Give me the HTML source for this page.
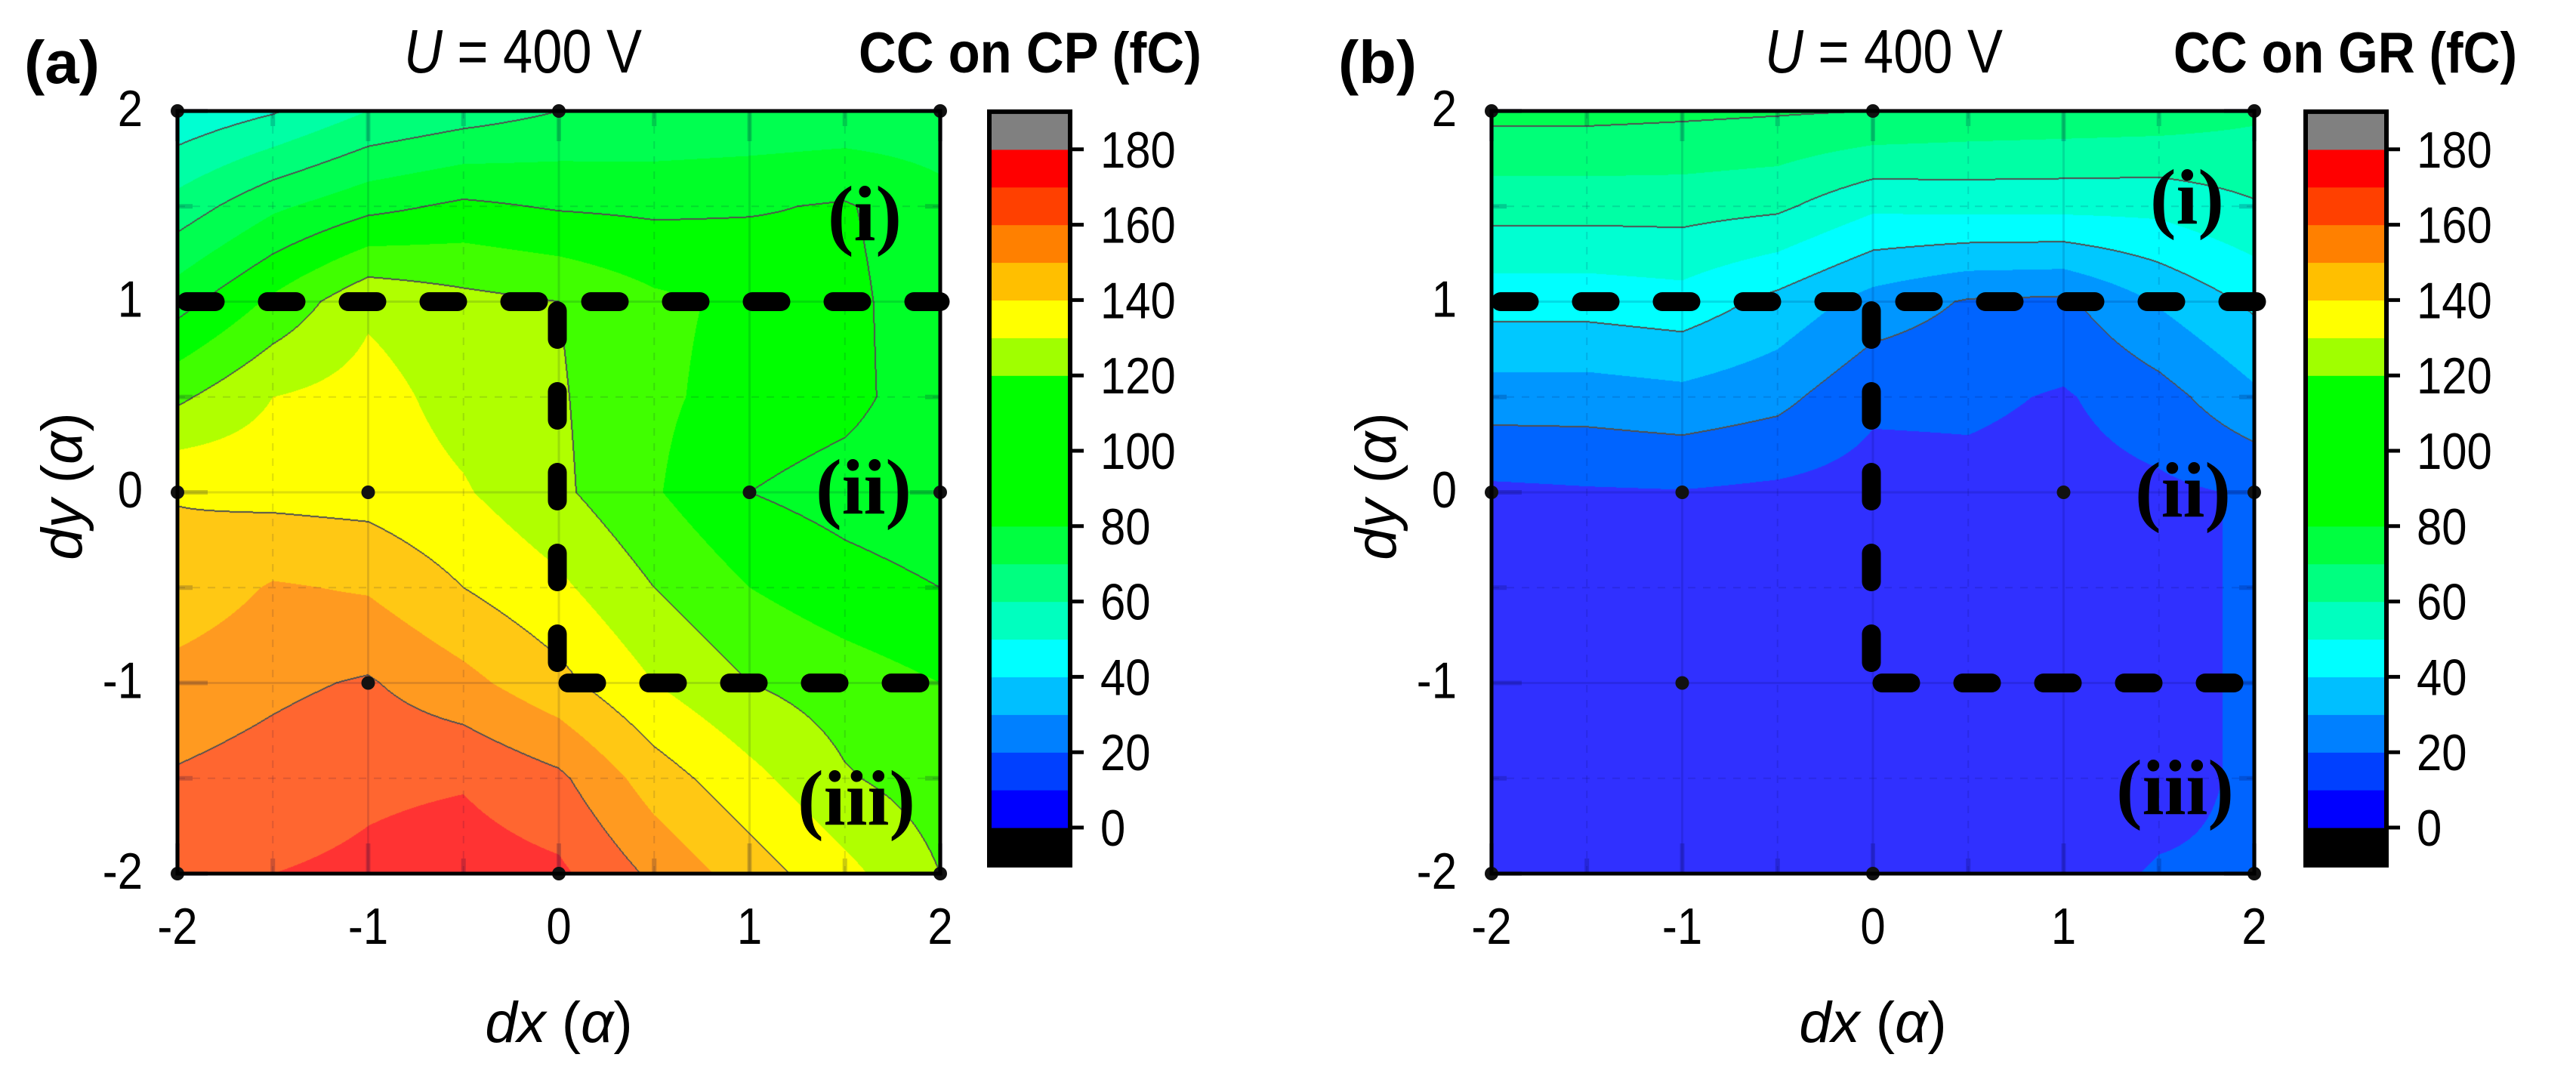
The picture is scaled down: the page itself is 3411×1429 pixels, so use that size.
<!DOCTYPE html>
<html><head><meta charset="utf-8">
<style>
html,body{margin:0;padding:0;background:#fff;}
#wrap{position:relative;width:3411px;height:1429px;overflow:hidden;background:#fff;}
canvas{position:absolute;}
svg{position:absolute;left:0;top:0;}
</style></head>
<body>
<div id="wrap">
<canvas id="cvA" width="1010" height="1010" style="left:235px;top:147px"></canvas>
<canvas id="cvB" width="1010" height="1010" style="left:1975px;top:147px"></canvas>
<svg id="ov" width="3411" height="1429" viewBox="0 0 3411 1429" font-family="'Liberation Sans', Arial, sans-serif">
  <text x="32" y="110" font-size="80" font-weight="bold" textLength="100" lengthAdjust="spacingAndGlyphs">(a)</text>
  <text x="535" y="96" font-size="82" textLength="315" lengthAdjust="spacingAndGlyphs"><tspan font-style="italic">U</tspan> = 400 V</text>
  <text x="1137" y="96" font-size="76" font-weight="bold" textLength="454" lengthAdjust="spacingAndGlyphs">CC on CP (fC)</text>
  <text x="1772" y="110" font-size="80" font-weight="bold" textLength="104" lengthAdjust="spacingAndGlyphs">(b)</text>
  <text x="2337" y="96" font-size="82" textLength="315" lengthAdjust="spacingAndGlyphs"><tspan font-style="italic">U</tspan> = 400 V</text>
  <text x="2878" y="96" font-size="76" font-weight="bold" textLength="455" lengthAdjust="spacingAndGlyphs">CC on GR (fC)</text>
  <g id="layer"></g>
</svg>
</div>
<script>
// ---- data ----
const gridCoords = [-2, -1.5, -1, -0.5, 0, 0.5, 1, 1.5, 2];
const axisTicks = [-2, -1, 0, 1, 2];
const axisTickLabels = ["-2", "-1", "0", "1", "2"];
const cbTicks = [0, 20, 40, 60, 80, 100, 120, 140, 160, 180];
const cbTickLabels = ["0", "20", "40", "60", "80", "100", "120", "140", "160", "180"];
const contourLevels = [20, 40, 60, 80, 100, 120, 140, 160, 180];
// CC on CP, rows y = 2 .. -2, cols x = -2 .. 2
const valuesCP = [
  [52, 59, 70, 75, 80, 81, 82, 83, 84],
  [74, 88, 97, 102, 99, 98, 99, 101, 93],
  [96, 112, 128, 123, 120, 112, 108, 103, 93],
  [118, 130, 134, 126, 121, 112, 106, 103, 94],
  [139.5, 137, 136, 131, 122, 111, 100, 96, 93],
  [143, 151, 149, 140, 132, 120, 110, 104, 100],
  [154, 158, 161, 153, 143, 130, 120, 115, 110],
  [161, 164, 168, 169, 162, 145, 133, 121, 115],
  [165, 170, 172, 175, 172, 158, 145, 133, 120]
];
// CC on GR
const valuesGR = [
  [83, 83, 82, 81, 80, 78, 77, 76, 72],
  [64, 64, 64, 62, 52, 53, 53, 53, 59],
  [44, 44, 46, 37, 26, 19, 18, 31, 42],
  [25, 25, 27, 23, 12, 12, 9, 16, 28],
  [8, 9, 9.5, 8, 6, 7, 6, 8, 11],
  [7, 7, 7, 7, 6, 6, 6, 8, 11],
  [6, 6, 6, 6, 6, 6, 6, 8, 11],
  [6, 6, 6, 6, 6, 6, 6, 8, 11],
  [5, 5, 5, 5, 5, 5, 8, 10.5, 10.8]
];
const measuredPoints = [[-2,2],[0,2],[2,2],[-2,0],[-1,0],[1,0],[2,0],[-1,-1],[-2,-2],[0,-2],[2,-2]];
const bandColorsPlot = ["#3030ff","#0064ff","#0096ff","#00c8ff","#00ffff","#00ffd2","#00ffa5","#00ff78","#00ff50","#00ff28","#00ff00","#40ff00","#b0ff00","#ffff00","#ffc814","#ff9a20","#ff6630","#ff3333"];
const bandColorsBar = ["#0000ff","#0040ff","#0080ff","#00bfff","#00ffff","#00ffbf","#00ff80","#00ff40","#00ff00","#00ff00","#00ff00","#00ff00","#a0ff00","#ffff00","#ffbf00","#ff8000","#ff4000","#ff0000"];

// ---- scales ----
const PX0 = 235, PY0 = 147, PS = 1010, UNIT = 252.5;
function xScale(v, off){ return PX0 + off + (v + 2) * UNIT; }
function yScale(v){ return PY0 + (2 - v) * UNIT; }
function cbScale(v){ return 1096 - v * 4.99; }

function hex(c){ return [parseInt(c.substr(1,2),16),parseInt(c.substr(3,2),16),parseInt(c.substr(5,2),16)]; }
const plotRGB = bandColorsPlot.map(hex);

function renderField(cv, grid){
  const ctx = cv.getContext('2d');
  const img = ctx.createImageData(PS, PS);
  const d = img.data;
  const vals = new Float32Array(PS*PS);
  for (let py=0; py<PS; py++){
    const yv = 2 - (py+0.5)/UNIT;
    let gy = (2 - yv)/0.5; let r0 = Math.min(7, Math.max(0, Math.floor(gy))); let fy = gy - r0;
    for (let px=0; px<PS; px++){
      const xv = -2 + (px+0.5)/UNIT;
      let gx = (xv + 2)/0.5; let c0 = Math.min(7, Math.max(0, Math.floor(gx))); let fx = gx - c0;
      const v = grid[r0][c0]*(1-fx)*(1-fy) + grid[r0][c0+1]*fx*(1-fy) + grid[r0+1][c0]*(1-fx)*fy + grid[r0+1][c0+1]*fx*fy;
      vals[py*PS+px] = v;
      let rgb;
      if (v < 0) rgb = [0,0,0]; else if (v >= 180) rgb = [136,136,136]; else rgb = plotRGB[Math.floor(v/10)];
      const i = (py*PS+px)*4;
      d[i]=rgb[0]; d[i+1]=rgb[1]; d[i+2]=rgb[2]; d[i+3]=255;
    }
  }
  const mark = (p)=>{ const i=p*4; d[i]=80; d[i+1]=80; d[i+2]=80; };
  for (let py=0; py<PS-1; py++){
    for (let px=0; px<PS-1; px++){
      const p = py*PS+px;
      const l = Math.floor(vals[p]/20);
      const lr = Math.floor(vals[p+1]/20);
      const ld = Math.floor(vals[p+PS]/20);
      if (l !== lr && Math.max(l,lr) >= 1){ mark(p); mark(p+1); }
      if (l !== ld && Math.max(l,ld) >= 1){ mark(p); mark(p+PS); }
    }
  }
  ctx.putImageData(img, 0, 0);
}
renderField(document.getElementById('cvA'), valuesCP);
renderField(document.getElementById('cvB'), valuesGR);

const NS = "http://www.w3.org/2000/svg";
const layer = document.getElementById('layer');
function mk(tag, attrs, parent){
  const e = document.createElementNS(NS, tag);
  for (const k in attrs) e.setAttribute(k, attrs[k]);
  (parent||layer).appendChild(e);
  return e;
}

function drawPanel(off, cbOff, key){
  const g = mk('g', {});
  
  
  for (let v=-2; v<=2.001; v+=0.5){
    const major = Math.abs(v - Math.round(v)) < 1e-6;
    const gx = mk('line', {x1:xScale(v,off), x2:xScale(v,off), y1:PY0, y2:PY0+PS, stroke:'rgba(0,0,60,0.13)', 'stroke-width': major?3:2, 'stroke-dasharray': major?'none':'10 10'}, g);
    
    
    const gy = mk('line', {x1:PX0+off, x2:PX0+off+PS, y1:yScale(v), y2:yScale(v), stroke:'rgba(0,0,60,0.13)', 'stroke-width': major?3:2, 'stroke-dasharray': major?'none':'10 10'}, g);
    
    
    const len = major ? 40 : 20;
    const t1 = mk('line', {x1:xScale(v,off), x2:xScale(v,off), y1:PY0+PS, y2:PY0+PS-len, stroke:'rgba(0,0,60,0.2)', 'stroke-width':6}, g);
    
    
    const t2 = mk('line', {x1:xScale(v,off), x2:xScale(v,off), y1:PY0, y2:PY0+len, stroke:'rgba(0,0,60,0.2)', 'stroke-width':6}, g);
    
    
    const t3 = mk('line', {x1:PX0+off, x2:PX0+off+len, y1:yScale(v), y2:yScale(v), stroke:'rgba(0,0,60,0.2)', 'stroke-width':6}, g);
    
    
    const t4 = mk('line', {x1:PX0+off+PS, x2:PX0+off+PS-len, y1:yScale(v), y2:yScale(v), stroke:'rgba(0,0,60,0.2)', 'stroke-width':6}, g);
    
    
  }
  measuredPoints.forEach(p=>{
    const c = mk('circle', {cx:xScale(p[0],off), cy:yScale(p[1]), r:9, fill:'#111'}, g);
    
    
  });
  const dashStyle = {fill:'none', stroke:'#000', 'stroke-width':25, 'stroke-linecap':'round', 'stroke-dasharray':'38 69'};
  const h1 = mk('path', Object.assign({d:`M${xScale(-2,off)+12} ${yScale(1)} L${xScale(2,off)+ (key==='gr'?8:0)} ${yScale(1)}`}, dashStyle), g);
  
  
  const v1 = mk('path', Object.assign({d:`M${xScale(0,off)-2} ${yScale(1)+12} L${xScale(0,off)-2} ${yScale(-1)}`}, dashStyle), g);
  
  
  const h2 = mk('path', Object.assign({d:`M${xScale(0,off)+12} ${yScale(-1)} L${xScale(1.9,off)} ${yScale(-1)}`}, dashStyle), g);
  
  
  const fr = mk('rect', {x:PX0+off, y:PY0, width:PS, height:PS, fill:'none', stroke:'#000', 'stroke-width':5}, g);
  
  
  axisTicks.forEach((t,i)=>{
    const xl = mk('text', {x:xScale(t,off), y:1250, 'font-size':68, 'text-anchor':'middle', transform:`translate(${xScale(t,off)*0.12},0) scale(0.88,1)`}, g);
    xl.textContent = axisTickLabels[i];
    
    
    const yx = PX0+off-46;
    const yl = mk('text', {x:yx, y:yScale(t)+20, 'font-size':68, 'text-anchor':'end', transform:`translate(${yx*0.12},0) scale(0.88,1)`}, g);
    yl.textContent = axisTickLabels[i];
    
    
  });
  const xt = mk('text', {x:xScale(0,off), y:1380, 'font-size':76, 'text-anchor':'middle'}, g);
  xt.innerHTML = '<tspan font-style="italic">dx</tspan> (<tspan font-style="italic">α</tspan>)';
  
  
  const yt = mk('text', {x:0, y:0, 'font-size':76, 'text-anchor':'middle', transform:`translate(${108+off},${yScale(0)-8}) rotate(-90)`}, g);
  yt.innerHTML = '<tspan font-style="italic">dy</tspan> (<tspan font-style="italic">α</tspan>)';
  
  
  const cbx = 1310 + cbOff, cbw = 107;
  const cb = mk('g', {}, g);
  
  
  for (let k=-1; k<=18; k++){
    const lo = k*10, hi = lo+10;
    const col = k<0 ? '#000' : (k>=18 ? '#808080' : bandColorsBar[k]);
    const r = mk('rect', {x:cbx, y:cbScale(hi), width:cbw, height:cbScale(lo)-cbScale(hi)+0.6, fill:col}, cb);
    
    
  }
  const cbf = mk('rect', {x:cbx, y:cbScale(190), width:cbw, height:cbScale(-10)-cbScale(190), fill:'none', stroke:'#000', 'stroke-width':6}, cb);
  
  
  cbTicks.forEach((t,i)=>{
    const tl = mk('line', {x1:cbx+cbw, x2:cbx+cbw+18, y1:cbScale(t), y2:cbScale(t), stroke:'#000', 'stroke-width':5}, cb);
    
    
    const tx0 = cbx+cbw+40;
    const tx = mk('text', {x:tx0, y:cbScale(t)+24, 'font-size':68, transform:`translate(${tx0*0.12},0) scale(0.88,1)`}, cb);
    tx.textContent = cbTickLabels[i];
    
    
  });
}
drawPanel(0, 0, 'cp');
drawPanel(1740, 1743, 'gr');

const regionLabels = [
  ["(i)", 1194, 318], ["(ii)", 1207, 680], ["(iii)", 1212, 1092],
  ["(i)", 2945, 296], ["(ii)", 2954, 684], ["(iii)", 2958, 1078]
];
regionLabels.forEach(r=>{
  const t = mk('text', {x:r[1], y:r[2], 'font-size':104, 'font-weight':'bold', 'text-anchor':'end', 'font-family':"'Liberation Serif', 'Times New Roman', serif"});
  t.textContent = r[0];
  
  
});
</script>
</body></html>
